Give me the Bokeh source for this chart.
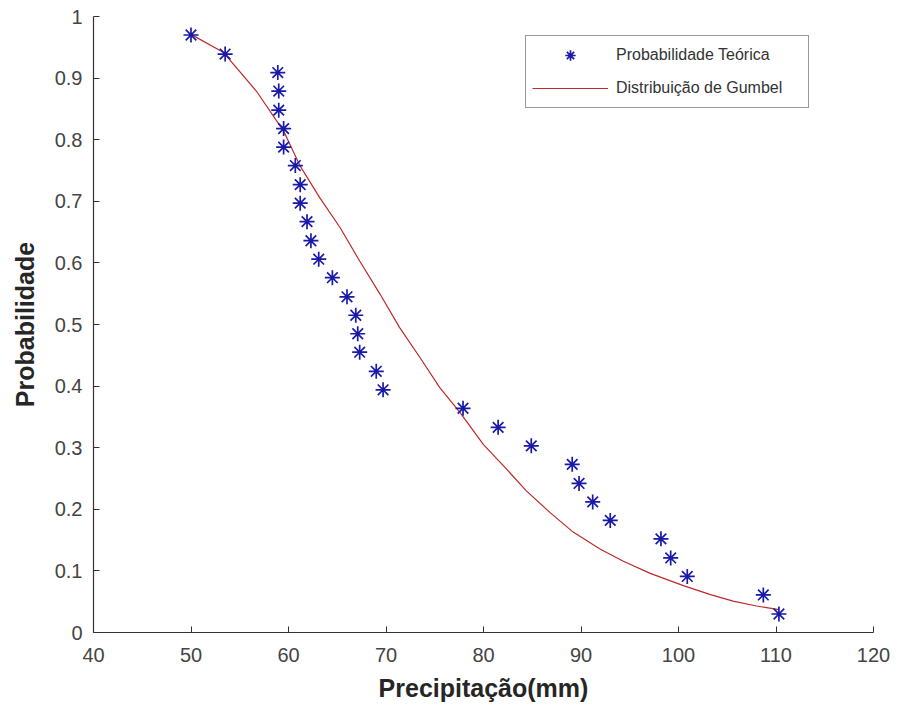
from bokeh.plotting import figure
from bokeh.models import FixedTicker, Legend, LegendItem
from bokeh.embed import file_html
from bokeh.resources import INLINE

# Observed data (precipitation mm) and theoretical (plotting-position) probabilities
precip = [50.0, 53.5, 58.9, 59.0, 59.0, 59.5, 59.5, 60.7, 61.2, 61.2, 61.9, 62.3, 63.1,
          64.5, 66.0, 66.9, 67.1, 67.3, 69.0, 69.7,
          77.9, 81.5, 84.9, 89.1, 89.8, 91.2, 93.0, 98.2, 99.2, 100.9, 108.7, 110.3]
prob_teorica = [0.970, 0.939, 0.909, 0.879, 0.848, 0.818, 0.788, 0.758, 0.727, 0.697, 0.667,
                0.636, 0.606, 0.576, 0.545, 0.515, 0.485, 0.455, 0.424, 0.394, 0.364, 0.333,
                0.303, 0.273, 0.242, 0.212, 0.182, 0.152, 0.121, 0.091, 0.061, 0.030]

# Gumbel curve
gumbel_x = [50.0, 53.3, 56.7, 59.5, 61.2, 63.2, 65.3, 67.3, 69.4, 71.4, 73.5, 75.5, 77.6,
            80.0, 82.2, 84.4, 86.8, 89.2, 91.9, 94.3, 97.1, 100.5, 103.2, 105.6, 108.0, 110.3]
gumbel_p = [0.971, 0.942, 0.879, 0.814, 0.757, 0.706, 0.657, 0.603, 0.549, 0.495, 0.446,
            0.398, 0.357, 0.305, 0.268, 0.230, 0.195, 0.163, 0.136, 0.116, 0.096, 0.076,
            0.062, 0.051, 0.043, 0.037]

x_ticks = [40, 50, 60, 70, 80, 90, 100, 110, 120]
y_ticks = [0, 0.1, 0.2, 0.3, 0.4, 0.5, 0.6, 0.7, 0.8, 0.9, 1]

FONT = "Liberation Sans"

p = figure(width=898, height=715, x_range=(40, 120), y_range=(0, 1),
           output_backend="svg", toolbar_location=None,
           min_border_left=93, min_border_right=25, min_border_top=16, min_border_bottom=83)
p.outline_line_color = None
p.xgrid.visible = False
p.ygrid.visible = False
p.background_fill_color = "white"
p.border_fill_color = "white"

line_r = p.line(gumbel_x, gumbel_p, line_color="#c0282a", line_width=1.2)
stars = p.scatter(precip, prob_teorica, marker="asterisk", size=15,
                  line_color="#1a1aa8", line_width=1.7)

for ax in (p.xaxis[0], p.yaxis[0]):
    ax.axis_line_color = "#333333"
    ax.axis_line_width = 1.2
    ax.major_tick_line_color = "#333333"
    ax.major_tick_in = 6
    ax.major_tick_out = 0
    ax.minor_tick_line_color = None
    ax.major_label_text_font = FONT
    ax.major_label_text_font_size = "20px"
    ax.major_label_text_color = "#444444"
    ax.axis_label_text_font = FONT
    ax.axis_label_text_font_size = "25px"
    ax.axis_label_text_font_style = "bold"
    ax.axis_label_text_color = "#262626"

p.xaxis[0].ticker = FixedTicker(ticks=x_ticks)
p.yaxis[0].ticker = FixedTicker(ticks=y_ticks)
p.yaxis[0].major_label_overrides = {0: "0", 1: "1"}
p.xaxis[0].axis_label = "Precipitação(mm)"
p.yaxis[0].axis_label = "Probabilidade"
p.xaxis[0].major_label_standoff = 15
p.yaxis[0].major_label_standoff = 11
p.xaxis[0].axis_label_standoff = 9
p.yaxis[0].axis_label_standoff = 13

legend = Legend(items=[LegendItem(label="Probabilidade Teórica", renderers=[stars]),
                       LegendItem(label="Distribuição de Gumbel", renderers=[line_r])],
                location=(432, 524))
legend.label_text_font = FONT
legend.label_text_font_size = "16px"
legend.label_text_color = "#333333"
legend.border_line_color = "#333333"
legend.border_line_width = 1
legend.padding = 6
legend.spacing = 7
legend.glyph_width = 76
legend.glyph_height = 26
legend.label_height = 26
legend.label_width = 186
legend.label_standoff = 8
legend.margin = 0
legend.background_fill_alpha = 1
p.add_layout(legend)

open("out.html", "w").write(file_html(p, INLINE))
